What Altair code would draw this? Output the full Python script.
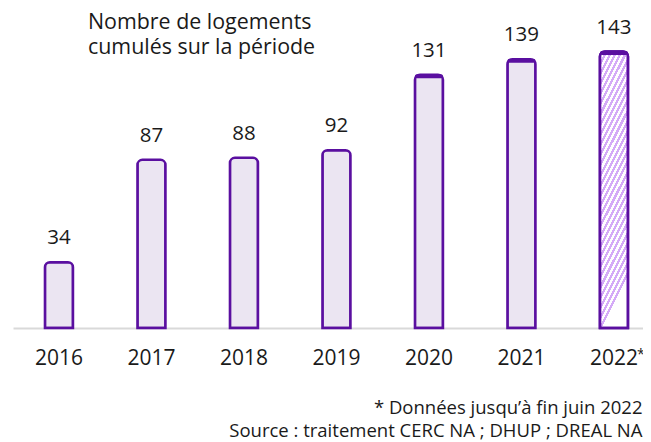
import altair as alt
import pandas as pd

# ---- data ----
years = ["2016", "2017", "2018", "2019", "2020", "2021", "2022"]
values = [34, 87, 88, 92, 131, 139, 143]
hatched_years = ["2022"]
capped_years = ["2020", "2021", "2022"]
star_years = ["2022"]
title_lines = ["Nombre de logements", "cumulés sur la période"]
footnotes = ["* Données jusqu’à fin juin 2022", "Source : traitement CERC NA ; DHUP ; DREAL NA"]

df = pd.DataFrame({"year": years, "value": values})

# ---- style ----
FONT = "Open Sans"
TEXT = "#1a1a1a"
STROKE = "#5a0fa0"
FILL = "#ebe5f2"
STRIPE = "#d4aaf7"
N_STRIPES = 28

stops = []
for k in range(N_STRIPES):
    a = k / N_STRIPES
    b = (k + 0.5) / N_STRIPES
    c = (k + 1) / N_STRIPES
    stops += [
        alt.GradientStop(offset=a, color=STRIPE),
        alt.GradientStop(offset=b, color=STRIPE),
        alt.GradientStop(offset=b, color="#ffffff"),
        alt.GradientStop(offset=c, color="#ffffff"),
    ]
hatch = alt.LinearGradient(gradient="linear", stops=stops, x1=0, y1=0, x2=0.2, y2=0.99)

x_enc = alt.X(
    "year:N",
    sort=years,
    scale=alt.Scale(paddingInner=0.697, paddingOuter=0.254, align=0.68),
    axis=alt.Axis(
        title=footnotes,
        titleFont=FONT,
        titleFontSize=18.5,
        titleFontWeight="normal",
        titleColor=TEXT,
        titleAlign="right",
        titleBaseline="alphabetic",
        titleAnchor="end",
        titleX=629,
        titleY=85,
        titleLineHeight=23,
        labelAngle=0,
        labelFont=FONT,
        labelFontSize=21,
        labelColor=TEXT,
        labelPadding=19,
        ticks=False,
        domainColor="#d9d9d9",
        domainWidth=2,
        grid=False,
    ),
)
y_enc = alt.Y("value:Q", scale=alt.Scale(domain=[0, 150], nice=False, zero=True), axis=None)

base = alt.Chart(df)

bars = base.mark_bar(
    fill=FILL, stroke=STROKE, strokeWidth=2.5,
    cornerRadiusTopLeft=5, cornerRadiusTopRight=5,
).encode(x=x_enc, y=y_enc)

hatched = base.transform_filter(
    alt.FieldOneOfPredicate(field="year", oneOf=hatched_years)
).mark_bar(
    fill=hatch, stroke=STROKE, strokeWidth=2.5,
    cornerRadiusTopLeft=5, cornerRadiusTopRight=5,
).encode(x=x_enc, y=y_enc)

caps = base.transform_filter(
    alt.FieldOneOfPredicate(field="year", oneOf=capped_years)
).mark_tick(
    color=STROKE, thickness=4, size=28, cornerRadius=2, yOffset=1.5, opacity=1
).encode(x=x_enc, y=y_enc)

labels = base.mark_text(
    baseline="bottom", dy=-14, font=FONT, fontSize=20.5, color=TEXT
).encode(x=x_enc, y=y_enc, text=alt.Text("value:Q"))

star = base.transform_filter(
    alt.FieldOneOfPredicate(field="year", oneOf=star_years)
).mark_text(
    text="*", align="left", baseline="top", dx=23, font=FONT, fontSize=14, color=TEXT
).encode(x=x_enc, y=alt.value(310))

chart = alt.layer(bars, hatched, caps, labels, star).properties(
    width=630,
    height=290,
    autosize="none",
    padding={"left": 5, "top": 30, "right": 0, "bottom": 112},
    title=alt.TitleParams(
        text=title_lines,
        anchor="start",
        frame="group",
        dx=75,
        offset=-41,
        font=FONT,
        fontSize=21.4,
        fontWeight="normal",
        color=TEXT,
        lineHeight=25,
    ),
).configure_view(stroke=None)

chart.save("out.html", embed_options={"renderer": "svg", "actions": False})
